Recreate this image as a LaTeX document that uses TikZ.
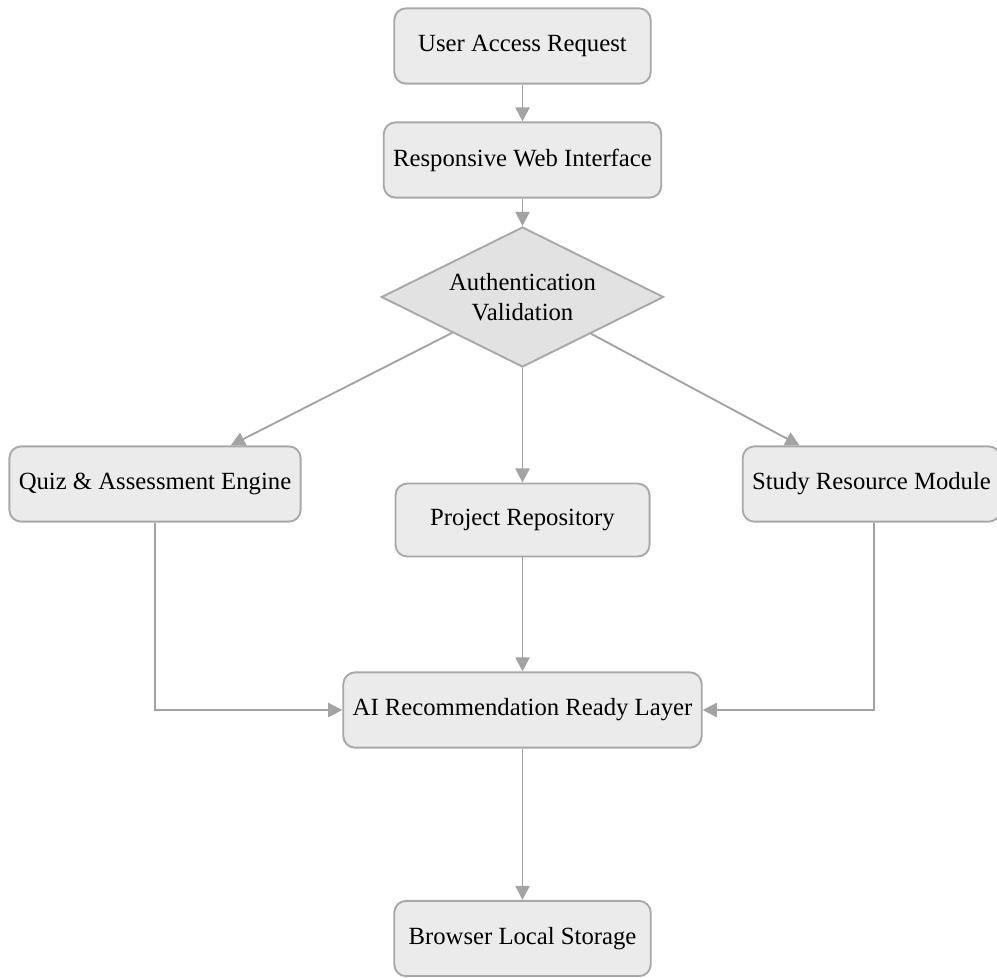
\documentclass[tikz,border=0pt]{standalone}
\usepackage{fontspec}
\setmainfont{Liberation Serif}
\usetikzlibrary{shapes.geometric,arrows.meta}
\definecolor{boxfill}{HTML}{EBEBEB}
\definecolor{boxline}{HTML}{A8A8A8}
\definecolor{arrowc}{HTML}{A3A3A3}
\begin{document}
\begin{tikzpicture}[x=0.425pt,y=-0.425pt,
  box/.style={draw=boxline,fill=boxfill,line width=0.8pt,rounded corners=5pt,
    minimum height=32pt,inner xsep=4pt,font=\fontsize{10.5}{12.5}\selectfont,text=black},
  dec/.style={draw=boxline,fill=boxfill!96!black,line width=0.8pt,shape=diamond,aspect=2,
    minimum width=120pt,minimum height=59.5pt,inner sep=0pt,align=center,
    font=\fontsize{10.5}{12.5}\selectfont},
  conn/.style={draw=arrowc,line width=0.8pt,-{Triangle[length=6pt,width=6pt]}}]
\useasboundingbox (0,0) rectangle (997,977);
\node[box,minimum width=109pt] (user) at (522.5,46) {User Access Request};
\node[box,minimum width=115.5pt] (web) at (522.5,160) {Responsive Web Interface};
\node[dec] (auth) at (522.5,297) {Authentication\\Validation};
\node[box,minimum width=123pt] (quiz) at (155,484) {Quiz \& Assessment Engine};
\node[box,minimum width=108pt,minimum height=31pt] (proj) at (522.5,520) {Project Repository};
\node[box,minimum width=107pt] (study) at (871.5,484) {Study Resource Module};
\node[box,minimum width=150pt] (ai) at (522.5,710) {AI Recommendation Ready Layer};
\node[box,minimum width=109pt] (browser) at (522.5,938.5) {Browser Local Storage};
\draw[conn] (user) -- (web);
\draw[conn] (web) -- (auth);
\draw[conn] (auth) -- (quiz);
\draw[conn] (auth) -- (proj);
\draw[conn] (auth) -- (study);
\draw[conn] (proj) -- (ai);
\draw[conn] (quiz.south) |- (ai.west);
\draw[conn] ([xshift=1.2pt]study.south) |- (ai.east);
\draw[conn] (ai) -- (browser);
\end{tikzpicture}
\end{document}
